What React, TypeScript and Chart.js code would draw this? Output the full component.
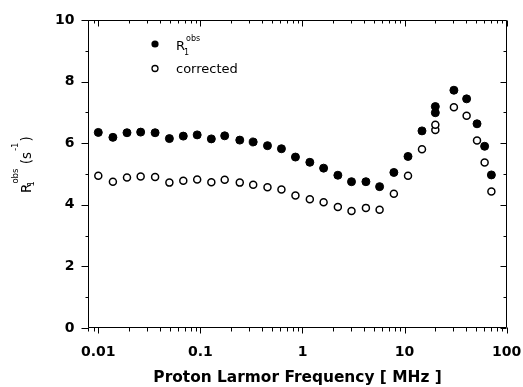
import React, { useEffect, useRef } from "react";
import { Chart, registerables } from "chart.js";

Chart.register(...registerables);

// Proton Larmor frequency (MHz)
const freq = [0.01, 0.0139, 0.0191, 0.026, 0.036, 0.0497, 0.068, 0.093, 0.128, 0.173, 0.243, 0.329, 0.454, 0.622, 0.853, 1.18, 1.61, 2.22, 3.02, 4.18, 5.69, 7.85, 10.8, 14.8, 20, 20, 30.4, 40.5, 51.2, 60.8, 70.8];
// R1 obs (s^-1)
const r1obs = [6.35, 6.19, 6.34, 6.36, 6.34, 6.15, 6.23, 6.27, 6.14, 6.24, 6.1, 6.04, 5.92, 5.82, 5.55, 5.38, 5.19, 4.96, 4.75, 4.75, 4.59, 5.05, 5.57, 6.4, 6.99, 7.19, 7.72, 7.44, 6.63, 5.9, 4.97];
// corrected (s^-1)
const corrected = [4.94, 4.75, 4.89, 4.92, 4.9, 4.72, 4.78, 4.82, 4.73, 4.81, 4.72, 4.65, 4.57, 4.5, 4.3, 4.18, 4.08, 3.93, 3.8, 3.9, 3.84, 4.36, 4.94, 5.8, 6.43, 6.6, 7.17, 6.89, 6.09, 5.37, 4.43];

const xMajor = [0.01, 0.1, 1, 10, 100];
const xMajorLabels = ["0.01", "0.1", "1", "10", "100"];
const xMinor = [0.008, 0.009, 0.02, 0.03, 0.04, 0.05, 0.06, 0.07, 0.08, 0.09, 0.2, 0.3, 0.4, 0.5, 0.6, 0.7, 0.8, 0.9, 2, 3, 4, 5, 6, 7, 8, 9, 20, 30, 40, 50, 60, 70, 80, 90];
const yMajor = [0, 2, 4, 6, 8, 10];
const yMinor = [1, 3, 5, 7, 9];

const xTitle = "Proton Larmor Frequency [ MHz ]";
const legendLabels = ["R", "1", "obs", "corrected"];

const TICK_FONT = { family: "DejaVu Sans", weight: "bold" as const, size: 14 };

const framePlugin = {
  id: "frameTicks",
  afterDraw(chart: any) {
    const { ctx, chartArea: a, scales } = chart;
    const xs = scales.x;
    const ys = scales.y;
    ctx.save();
    ctx.strokeStyle = "#000";
    ctx.lineWidth = 1;
    const L = Math.round(a.left) + 0.5;
    const R = Math.round(a.right) - 0.5;
    const T = Math.round(a.top) + 0.5;
    const B = Math.round(a.bottom) - 0.5;
    ctx.beginPath();
    ctx.rect(L, T, R - L, B - T);
    ctx.stroke();
    const line = (x1: number, y1: number, x2: number, y2: number) => {
      ctx.beginPath();
      ctx.moveTo(x1, y1);
      ctx.lineTo(x2, y2);
      ctx.stroke();
    };
    // y ticks
    yMajor.forEach((v) => {
      const y = Math.round(ys.getPixelForValue(v)) + 0.5;
      line(L - 7, y, L, y);
      line(R, y, R - 6, y);
    });
    yMinor.forEach((v) => {
      const y = Math.round(ys.getPixelForValue(v)) + 0.5;
      line(L - 3, y, L, y);
      line(R, y, R - 3, y);
    });
    // x ticks
    xMajor.forEach((v) => {
      const x = Math.round(xs.getPixelForValue(v)) + 0.5;
      line(x, B, x, B + 6);
      line(x, T, x, T + 6);
    });
    xMinor.forEach((v) => {
      const x = Math.round(xs.getPixelForValue(v)) + 0.5;
      if (x < L - 0.5 || x > R + 0.5) return;
      line(x, B, x, B + 4);
      line(x, T, x, T + 3);
    });

    // legend
    ctx.fillStyle = "#000";
    ctx.beginPath();
    ctx.arc(155, 44, 3.6, 0, Math.PI * 2);
    ctx.fill();
    ctx.beginPath();
    ctx.lineWidth = 1.3;
    ctx.fillStyle = "#fff";
    ctx.arc(155, 68.5, 3, 0, Math.PI * 2);
    ctx.fill();
    ctx.stroke();
    ctx.fillStyle = "#000";
    ctx.textBaseline = "alphabetic";
    ctx.textAlign = "left";
    ctx.font = "13px 'DejaVu Sans'";
    ctx.fillText(legendLabels[0], 176, 50);
    ctx.font = "8px 'DejaVu Sans'";
    ctx.fillText(legendLabels[1], 184, 55);
    ctx.fillText(legendLabels[2], 186, 41);
    ctx.font = "13px 'DejaVu Sans'";
    ctx.fillText(legendLabels[3], 176, 73);

    // x title
    ctx.font = "bold 15.4px 'DejaVu Sans'";
    ctx.textAlign = "center";
    ctx.fillText(xTitle, (a.left + a.right) / 2, 382);

    // y title (rotated)
    ctx.save();
    ctx.translate(31, 193);
    ctx.rotate(-Math.PI / 2);
    ctx.textAlign = "left";
    let px = 0;
    ctx.font = "13.5px 'DejaVu Sans'";
    ctx.fillText("R", px, 0);
    px += ctx.measureText("R").width;
    ctx.font = "8.5px 'DejaVu Sans'";
    ctx.fillText("1", px - 3, 3);
    ctx.fillText("obs", px, -13);
    px += ctx.measureText("obs").width;
    ctx.font = "13.5px 'DejaVu Sans'";
    px += ctx.measureText(" ").width;
    ctx.fillText("(s", px, 0);
    px += ctx.measureText("(s").width;
    ctx.font = "8.5px 'DejaVu Sans'";
    ctx.fillText("-1", px + 1, -13);
    px += ctx.measureText("-1").width + 2;
    ctx.font = "13.5px 'DejaVu Sans'";
    ctx.fillText(")", px, 0);
    ctx.restore();

    ctx.restore();
  },
};

export default function App() {
  const ref = useRef<HTMLCanvasElement | null>(null);
  useEffect(() => {
    if (!ref.current) return;
    const chart = new Chart(ref.current, {
      type: "scatter",
      data: {
        datasets: [
          {
            label: "R1obs",
            data: freq.map((f, i) => ({ x: f, y: r1obs[i] })),
            backgroundColor: "#000",
            borderColor: "#000",
            borderWidth: 1,
            pointRadius: 4,
          },
          {
            label: "corrected",
            data: freq.map((f, i) => ({ x: f, y: corrected[i] })),
            backgroundColor: "#fff",
            borderColor: "#000",
            borderWidth: 1.5,
            pointRadius: 3.5,
          },
        ],
      },
      options: {
        responsive: false,
        animation: false,
        devicePixelRatio: 1,
        layout: { padding: { left: 0, right: 16.3, top: 20, bottom: 0 } },
        plugins: { legend: { display: false }, tooltip: { enabled: false } },
        scales: {
          x: {
            type: "logarithmic",
            min: 0.008,
            max: 100,
            grid: { display: false, drawTicks: false, tickLength: 0 },
            border: { display: false },
            afterBuildTicks: (s: any) => {
              s.ticks = xMajor.map((v) => ({ value: v }));
            },
            afterFit: (s: any) => {
              s.height = 59;
              s.paddingLeft = 0;
              s.paddingRight = 0;
            },
            ticks: {
              autoSkip: false,
              maxRotation: 0,
              minRotation: 0,
              padding: 16,
              color: "#000",
              font: TICK_FONT,
              callback: (_v: any, i: number) => xMajorLabels[i],
            },
          },
          y: {
            type: "linear",
            min: 0,
            max: 10,
            grid: { display: false, drawTicks: false, tickLength: 0 },
            border: { display: false },
            afterBuildTicks: (s: any) => {
              s.ticks = yMajor.map((v) => ({ value: v }));
            },
            afterFit: (s: any) => {
              s.width = 88.4;
              s.paddingTop = 0;
              s.paddingBottom = 0;
            },
            ticks: {
              padding: 14,
              color: "#000",
              font: TICK_FONT,
              callback: (v: any) => String(v),
            },
          },
        },
      },
      plugins: [framePlugin],
    });
    return () => chart.destroy();
  }, []);
  return (
    <div style={{ position: "absolute", left: 0, top: 0, width: 523, height: 387 }}>
      <canvas ref={ref} width={523} height={387} />
    </div>
  );
}
